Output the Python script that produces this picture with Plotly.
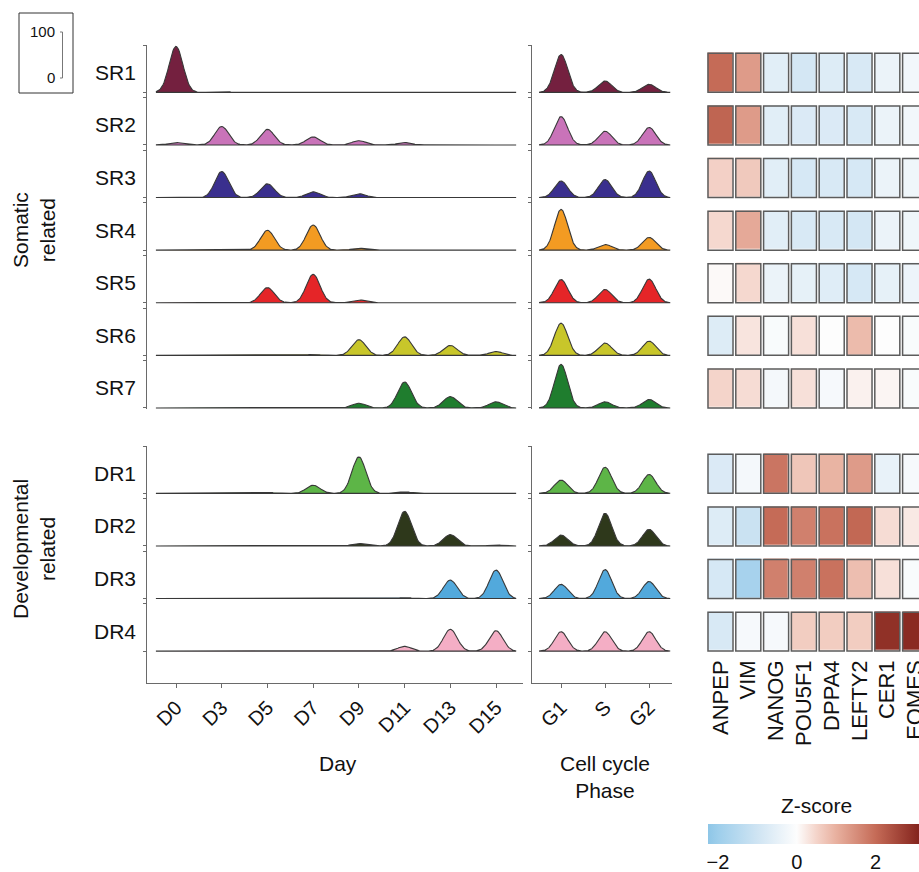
import numpy as np
import plotly.graph_objects as go

W, H = 919, 872
def px(x): return x / W
def py(y): return 1 - y / H

FONT = "Liberation Sans, Arial, sans-serif"

# ---------------- data ----------------
days = ["D0", "D3", "D5", "D7", "D9", "D11", "D13", "D15"]
phases = ["G1", "S", "G2"]
genes = ["ANPEP", "VIM", "NANOG", "POU5F1", "DPPA4", "LEFTY2", "CER1", "EOMES"]

somatic_names = ["SR1", "SR2", "SR3", "SR4", "SR5", "SR6", "SR7"]
dev_names = ["DR1", "DR2", "DR3", "DR4"]

somatic_colors = ["#74203F", "#C973B9", "#3A2F8E", "#F39B22", "#E52528", "#C8C62A", "#1F7D2E"]
dev_colors = ["#5DB547", "#2E381B", "#52A9DC", "#F4AEC5"]

# percentage of cells per day (0-100)
day_somatic = [
    [97, 2, 0, 0, 0, 0, 0, 0],
    [5, 39, 33, 17, 9, 5, 0, 0],
    [0, 55, 29, 12, 8, 0, 0, 0],
    [0, 0, 42, 53, 4, 1, 0, 0],
    [0, 0, 32, 60, 6, 1, 0, 0],
    [0, 0, 0, 2, 33, 39, 21, 8],
    [0, 0, 0, 0, 10, 55, 24, 13],
]
day_dev = [
    [0, 0, 2, 17, 77, 3, 0, 0],
    [0, 0, 0, 0, 5, 73, 24, 2],
    [0, 0, 0, 0, 0, 2, 39, 60],
    [0, 0, 0, 0, 0, 10, 46, 43],
]

# percentage of cells per cell-cycle phase (0-100)
phase_somatic = [
    [80, 24, 17],
    [60, 29, 37],
    [35, 38, 56],
    [86, 12, 27],
    [49, 28, 50],
    [68, 26, 30],
    [92, 13, 18],
]
phase_dev = [
    [28, 55, 40],
    [23, 69, 35],
    [30, 61, 36],
    [41, 41, 41],
]

# marker gene z-scores
z_somatic = [
    [2.0, 1.3, -0.6, -0.9, -0.7, -0.8, -0.4, -0.25],
    [2.1, 1.3, -0.6, -0.75, -0.75, -0.8, -0.4, -0.25],
    [0.55, 0.65, -0.6, -0.85, -0.8, -0.85, -0.4, -0.3],
    [0.45, 1.1, -0.6, -0.8, -0.8, -0.9, -0.4, -0.3],
    [0.05, 0.45, -0.4, -0.5, -0.65, -0.85, -0.5, -0.35],
    [-0.7, 0.3, -0.1, 0.35, 0.0, 0.85, 0.0, -0.1],
    [0.5, 0.4, -0.2, 0.35, -0.15, 0.15, 0.1, -0.1],
]
z_dev = [
    [-0.75, -0.2, 1.85, 0.7, 0.95, 1.3, -0.45, -0.15],
    [-0.7, -1.1, 2.0, 1.7, 1.9, 2.05, 0.4, 0.25],
    [-0.85, -1.8, 1.7, 1.7, 1.9, 0.8, 0.35, -0.1],
    [-0.8, -0.15, -0.15, 0.6, 0.6, 0.6, 2.9, 3.0],
]

ZMIN, ZMAX = -2.25, 3.25
cs_points = [(-2.25, "#8EC6E7"), (-2.0, "#9DCEEB"), (-1.0, "#CFE4F3"), (0.0, "#FDFDFD"),
             (0.5, "#F4D4CA"), (1.0, "#E8B09F"), (2.0, "#C56B57"), (3.0, "#8A2A22"), (3.25, "#781D18")]
colorscale = [[(v - ZMIN) / (ZMAX - ZMIN), c] for v, c in cs_points]

# ---------------- geometry ----------------
SIGMA = 0.15
ROW_H = 0.9        # value 100 -> 0.9 row units
CELL_H = 0.741     # heatmap cell height in row units
OUTLINE = "#383838"
AXCOL = "#6a6a6a"

def ridge(values, x_lo, x_hi):
    xs = np.linspace(x_lo, x_hi, 400)
    ys = np.zeros_like(xs)
    for i, v in enumerate(values):
        ys += v * np.exp(-(xs - i) ** 2 / (2 * SIGMA ** 2))
    return xs, ys / 100 * ROW_H

fig = go.Figure()

def add_ridges(rows, colors, xa, ya, x_lo, x_hi):
    for k, (vals, col) in enumerate(zip(rows, colors)):
        xs, ys = ridge(vals, x_lo, x_hi)
        b = -k
        fig.add_trace(go.Scatter(
            x=np.concatenate([xs, xs[::-1]]),
            y=np.concatenate([b + ys, np.full_like(xs, b)]),
            mode="lines", fill="toself", fillcolor=col,
            line=dict(color=OUTLINE, width=1.1),
            xaxis=xa, yaxis=ya, hoverinfo="skip", showlegend=False))

add_ridges(day_somatic, somatic_colors, "x", "y", -0.44, len(days) - 1 + 0.44)
add_ridges(day_dev, dev_colors, "x2", "y2", -0.44, len(days) - 1 + 0.44)
add_ridges(phase_somatic, somatic_colors, "x3", "y3", -0.5, len(phases) - 1 + 0.48)
add_ridges(phase_dev, dev_colors, "x4", "y4", -0.5, len(phases) - 1 + 0.48)

LBL = dict(size=21, family=FONT, color="#111")
CBF = dict(size=20, family=FONT, color="#111")

shapes = []
def add_heat(zrows, xa, ya, showscale):
    n = len(zrows)
    yc = [-k + CELL_H / 2 for k in range(n)]
    fig.add_trace(go.Heatmap(
        z=zrows, x=list(range(len(genes))), y=yc,
        zmin=ZMIN, zmax=ZMAX, colorscale=colorscale,
        xgap=2.8, ygap=52.6 * (1 - CELL_H),
        showscale=showscale, hoverinfo="skip",
        xaxis=xa, yaxis=ya,
        colorbar=dict(orientation="h", x=px(708), xanchor="left",
                      y=py(866), yanchor="bottom",
                      len=(ZMAX - ZMIN) * 39.5, lenmode="pixels",
                      thickness=20, thicknessmode="pixels",
                      outlinewidth=0, ticks="", xpad=0, ypad=0,
                      tickvals=[-2, 0, 2], ticktext=["\u22122", "0", "2"],
                      tickfont=CBF) if showscale else None))
    for k in range(n):
        for i in range(len(genes)):
            shapes.append(dict(type="rect", xref=xa, yref=ya,
                               x0=i - 0.45, x1=i + 0.45, y0=-k, y1=-k + CELL_H,
                               line=dict(color="#5c5c5c", width=1.5), layer="above"))

add_heat(z_somatic, "x5", "y5", True)
add_heat(z_dev, "x6", "y6", False)

# ---------------- axes ----------------
def yticks(n):
    t = []
    for k in range(n):
        t += [-k, -k + ROW_H]
    return t

common_y = dict(showgrid=False, zeroline=False, showline=True, linecolor=AXCOL, linewidth=1,
                ticks="outside", ticklen=3, tickcolor=AXCOL, showticklabels=False, fixedrange=True)
hidden = dict(visible=False, showgrid=False, zeroline=False, fixedrange=True)

day_dom = [px(147), px(523)]
day_rng = [-0.635, 7.59]
ph_dom = [px(532), px(672)]
ph_rng = [-0.66, 2.52]
heat_dom = [px(706.6), 1.0]
heat_rng = [-0.5, 7.14]

SR_dom = [py(409), py(45)]
SR_rng = [-6.02, ROW_H]
DR_dom = [py(683), py(446)]
DR_rng = [-3.606, ROW_H]
HDR_dom = [py(655), py(446)]
HDR_rng = [-3.074, ROW_H]

tickfont = dict(size=20, family=FONT, color="#111")
genefont = dict(size=22, family=FONT, color="#111")

fig.update_layout(
    xaxis=dict(domain=day_dom, range=day_rng, anchor="y", **hidden),
    yaxis=dict(domain=SR_dom, range=SR_rng, anchor="x", tickvals=yticks(7), **common_y),
    xaxis2=dict(domain=day_dom, range=day_rng, anchor="y2", showgrid=False, zeroline=False,
                showline=True, linecolor=AXCOL, ticks="outside", ticklen=4, tickcolor=AXCOL,
                tickvals=list(range(len(days))), ticktext=days, tickangle=-45, tickfont=tickfont,
                fixedrange=True),
    yaxis2=dict(domain=DR_dom, range=DR_rng, anchor="x2", tickvals=yticks(4), **common_y),
    xaxis3=dict(domain=ph_dom, range=ph_rng, anchor="y3", **hidden),
    yaxis3=dict(domain=SR_dom, range=SR_rng, anchor="x3", tickvals=yticks(7), **common_y),
    xaxis4=dict(domain=ph_dom, range=ph_rng, anchor="y4", showgrid=False, zeroline=False,
                showline=True, linecolor=AXCOL, ticks="outside", ticklen=4, tickcolor=AXCOL,
                tickvals=list(range(len(phases))), ticktext=phases, tickangle=-45, tickfont=tickfont,
                fixedrange=True),
    yaxis4=dict(domain=DR_dom, range=DR_rng, anchor="x4", tickvals=yticks(4), **common_y),
    xaxis5=dict(domain=heat_dom, range=heat_rng, anchor="y5", **hidden),
    yaxis5=dict(domain=SR_dom, range=SR_rng, anchor="x5", **hidden),
    xaxis6=dict(domain=heat_dom, range=heat_rng, anchor="y6", showgrid=False, zeroline=False,
                showline=False, ticks="", tickvals=list(range(len(genes))), ticktext=genes,
                tickangle=-90, tickfont=genefont, ticklabeloverflow="allow", fixedrange=True),
    yaxis6=dict(domain=HDR_dom, range=HDR_rng, anchor="x6", **hidden),
)

# ---------------- annotations ----------------
ann = []
for k, name in enumerate(somatic_names):
    ann.append(dict(text=name, xref="paper", yref="y", x=px(138), y=-k + 0.38,
                    xanchor="right", yanchor="middle", showarrow=False, font=LBL))
for k, name in enumerate(dev_names):
    ann.append(dict(text=name, xref="paper", yref="y2", x=px(138), y=-k + 0.38,
                    xanchor="right", yanchor="middle", showarrow=False, font=LBL))

ann.append(dict(text="Somatic<br>related", xref="paper", yref="paper", x=px(34), y=py(230),
                textangle=-90, showarrow=False, font=LBL, xanchor="center", yanchor="middle"))
ann.append(dict(text="Developmental<br>related", xref="paper", yref="paper", x=px(34), y=py(549),
                textangle=-90, showarrow=False, font=LBL, xanchor="center", yanchor="middle"))
ann.append(dict(text="Day", xref="paper", yref="paper", x=px(338), y=py(763),
                showarrow=False, font=LBL, xanchor="center", yanchor="middle"))
ann.append(dict(text="Cell cycle<br>Phase", xref="paper", yref="paper", x=px(605), y=py(777),
                showarrow=False, font=LBL, xanchor="center", yanchor="middle"))
ann.append(dict(text="Z-score", xref="paper", yref="paper", x=px(816), y=py(805),
                showarrow=False, font=LBL, xanchor="center", yanchor="middle"))

# scale legend box
small = dict(family=FONT, size=15, color="#111")
ann.append(dict(text="100", xref="paper", yref="paper", x=px(57), y=py(31),
                xanchor="right", yanchor="middle", showarrow=False, font=small))
ann.append(dict(text="0", xref="paper", yref="paper", x=px(57), y=py(77),
                xanchor="right", yanchor="middle", showarrow=False, font=small))
shapes.append(dict(type="rect", xref="paper", yref="paper", x0=px(19), x1=px(73),
                   y0=py(93), y1=py(13), line=dict(color="#333", width=1)))
shapes.append(dict(type="path", xref="paper", yref="paper",
                   path=f"M {px(60)} {py(32)} L {px(62.5)} {py(32)} L {px(62.5)} {py(78)} L {px(60)} {py(78)}",
                   line=dict(color="#777", width=1)))

fig.update_layout(
    width=W, height=H, margin=dict(l=0, r=0, t=0, b=0, autoexpand=False),
    paper_bgcolor="#FFFFFF", plot_bgcolor="rgba(0,0,0,0)",
    annotations=ann, shapes=shapes, showlegend=False,
    font=dict(family=FONT, color="#111"),
)

fig.write_html("out.html")
